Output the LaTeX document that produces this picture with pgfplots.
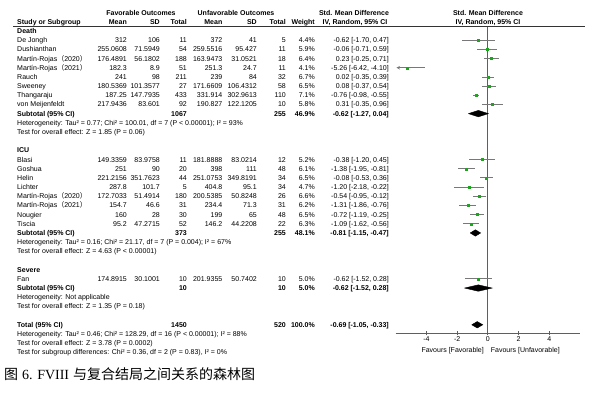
\documentclass[border=0pt]{standalone}
\usepackage{pgfplots}
\pgfplotsset{compat=1.18}
\usepackage{pgfplotstable}
\usepackage{fontspec}
\setmainfont{Liberation Sans}
\newfontfamily\cjk{Noto Sans CJK SC}
\newfontfamily\serif{Liberation Serif}
\usetikzlibrary{arrows.meta}

\definecolor{ptgreen}{RGB}{30,165,30}
\definecolor{cigray}{RGB}{120,120,120}
\definecolor{axgray}{RGB}{95,95,95}

\pgfplotstableread{
y est lo hi
-1 -0.62 -1.70 0.47
-2 -0.06 -0.71 0.59
-3 0.23 -0.25 0.71
-5 0.02 -0.35 0.39
-6 0.08 -0.37 0.54
-7 -0.76 -0.98 -0.55
-8 0.31 -0.35 0.96
-14 -0.38 -1.20 0.45
-15 -1.38 -1.95 -0.81
-16 -0.08 -0.53 0.36
-17 -1.20 -2.18 -0.22
-18 -0.54 -0.95 -0.12
-19 -1.31 -1.86 -0.76
-20 -0.72 -1.19 -0.25
-21 -1.09 -1.62 -0.56
-27 -0.62 -1.52 0.28
}\studies

\newcommand{\by}[1]{-(33.5+9.18*(#1))}
\newcommand{\cFM}{127}
\newcommand{\cFS}{160}
\newcommand{\cFT}{187}
\newcommand{\cUM}{222.5}
\newcommand{\cUS}{257}
\newcommand{\cUT}{286}
\newcommand{\cW}{315}
\newcommand{\cCI}{389}
% row: n, name, m1, sd1, n1, m2, sd2, n2
\newcommand{\StRow}[8]{%
  \node[t,anchor=base west] at (17,{\by{#1}}) {#2};
  \node[t,anchor=base east] at (\cFM,{\by{#1}}) {#3};
  \node[t,anchor=base east] at (\cFS,{\by{#1}}) {#4};
  \node[t,anchor=base east] at (\cFT,{\by{#1}}) {#5};
  \node[t,anchor=base east] at (\cUM,{\by{#1}}) {#6};
  \node[t,anchor=base east] at (\cUS,{\by{#1}}) {#7};
  \node[t,anchor=base east] at (\cUT,{\by{#1}}) {#8};
}
\newcommand{\WtCi}[3]{%
  \node[t,anchor=base east] at (\cW,{\by{#1}}) {#2};
  \node[t,anchor=base east] at (\cCI,{\by{#1}}) {#3};
}
\newcommand{\SubRow}[6]{% n, label, tot1, tot2, w, ci
  \node[t,anchor=base west] at (17,{\by{#1}}) {\bfseries #2};
  \node[t,anchor=base east] at (\cFT,{\by{#1}}) {\bfseries #3};
  \node[t,anchor=base east] at (\cUT,{\by{#1}}) {\bfseries #4};
  \node[t,anchor=base east] at (\cW,{\by{#1}}) {\bfseries #5};
  \node[t,anchor=base east] at (\cCI,{\by{#1}}) {\bfseries #6};
}
\newcommand{\LnRow}[2]{\node[t,anchor=base west] at (17,{\by{#1}}) {#2};}
\newcommand{\MR}[1]{Martín-Rojas{\cjk （}#1{\cjk ）}}

\begin{document}
\begin{tikzpicture}[x=1pt,y=1pt,
  t/.style={inner sep=0pt,font=\fontsize{7}{8.4}\selectfont}]
\useasboundingbox (0pt,0pt) rectangle (600pt,-392pt);

% headers
\node[t,anchor=base] at (141,{\by{-2}}) {\bfseries Favorable Outcomes};
\node[t,anchor=base] at (236,{\by{-2}}) {\bfseries Unfavorable Outcomes};
\node[t,anchor=base] at (354,{\by{-2}}) {\bfseries Std. Mean Difference};
\node[t,anchor=base] at (488,{\by{-2}}) {\bfseries Std. Mean Difference};
\node[t,anchor=base west] at (17,{\by{-1}}) {\bfseries Study or Subgroup};
\node[t,anchor=base east] at (\cFM,{\by{-1}}) {\bfseries Mean};
\node[t,anchor=base east] at (\cFS,{\by{-1}}) {\bfseries SD};
\node[t,anchor=base east] at (\cFT,{\by{-1}}) {\bfseries Total};
\node[t,anchor=base east] at (\cUM,{\by{-1}}) {\bfseries Mean};
\node[t,anchor=base east] at (\cUS,{\by{-1}}) {\bfseries SD};
\node[t,anchor=base east] at (\cUT,{\by{-1}}) {\bfseries Total};
\node[t,anchor=base east] at (\cW,{\by{-1}}) {\bfseries Weight};
\node[t,anchor=base] at (355,{\by{-1}}) {\bfseries IV, Random, 95\% CI};
\node[t,anchor=base] at (488,{\by{-1}}) {\bfseries IV, Random, 95\% CI};
\draw[black!80, line width=0.6pt] (13pt,-26.5pt) -- (585pt,-26.5pt);

% Death
\LnRow{0}{\bfseries Death}
\StRow{1}{De Jongh}{312}{106}{11}{372}{41}{5}\WtCi{1}{4.4\%}{-0.62 [-1.70, 0.47]}
\StRow{2}{Dushianthan}{255.0608}{71.5949}{54}{259.5516}{95.427}{11}\WtCi{2}{5.9\%}{-0.06 [-0.71, 0.59]}
\StRow{3}{\MR{2020}}{176.4891}{56.1802}{188}{163.9473}{31.0521}{18}\WtCi{3}{6.4\%}{0.23 [-0.25, 0.71]}
\StRow{4}{\MR{2021}}{182.3}{8.9}{51}{251.3}{24.7}{11}\WtCi{4}{4.1\%}{-5.26 [-6.42, -4.10]}
\StRow{5}{Rauch}{241}{98}{211}{239}{84}{32}\WtCi{5}{6.7\%}{0.02 [-0.35, 0.39]}
\StRow{6}{Sweeney}{180.5369}{101.3577}{27}{171.6609}{106.4312}{58}\WtCi{6}{6.5\%}{0.08 [-0.37, 0.54]}
\StRow{7}{Thangaraju}{187.25}{147.7935}{433}{331.914}{302.9613}{110}\WtCi{7}{7.1\%}{-0.76 [-0.98, -0.55]}
\StRow{8}{von Meijenfeldt}{217.9436}{83.601}{92}{190.827}{122.1205}{10}\WtCi{8}{5.8\%}{0.31 [-0.35, 0.96]}
\SubRow{9}{Subtotal (95\% CI)}{1067}{255}{46.9\%}{-0.62 [-1.27, 0.04]}
\LnRow{10}{Heterogeneity: Tau² = 0.77; Chi² = 100.01, df = 7 (P < 0.00001); I² = 93\%}
\LnRow{11}{Test for overall effect: Z = 1.85 (P = 0.06)}

% ICU
\LnRow{13}{\bfseries ICU}
\StRow{14}{Blasi}{149.3359}{83.9758}{11}{181.8888}{83.0214}{12}\WtCi{14}{5.2\%}{-0.38 [-1.20, 0.45]}
\StRow{15}{Goshua}{251}{90}{20}{398}{111}{48}\WtCi{15}{6.1\%}{-1.38 [-1.95, -0.81]}
\StRow{16}{Helin}{221.2156}{351.7623}{44}{251.0753}{349.8191}{34}\WtCi{16}{6.5\%}{-0.08 [-0.53, 0.36]}
\StRow{17}{Lichter}{287.8}{101.7}{5}{404.8}{95.1}{34}\WtCi{17}{4.7\%}{-1.20 [-2.18, -0.22]}
\StRow{18}{\MR{2020}}{172.7033}{51.4914}{180}{200.5385}{50.8248}{26}\WtCi{18}{6.6\%}{-0.54 [-0.95, -0.12]}
\StRow{19}{\MR{2021}}{154.7}{46.6}{31}{234.4}{71.3}{31}\WtCi{19}{6.2\%}{-1.31 [-1.86, -0.76]}
\StRow{20}{Nougier}{160}{28}{30}{199}{65}{48}\WtCi{20}{6.5\%}{-0.72 [-1.19, -0.25]}
\StRow{21}{Tiscia}{95.2}{47.2715}{52}{146.2}{44.2208}{22}\WtCi{21}{6.3\%}{-1.09 [-1.62, -0.56]}
\SubRow{22}{Subtotal (95\% CI)}{373}{255}{48.1\%}{-0.81 [-1.15, -0.47]}
\LnRow{23}{Heterogeneity: Tau² = 0.16; Chi² = 21.17, df = 7 (P = 0.004); I² = 67\%}
\LnRow{24}{Test for overall effect: Z = 4.63 (P < 0.00001)}

% Severe
\LnRow{26}{\bfseries Severe}
\StRow{27}{Fan}{174.8915}{30.1001}{10}{201.9355}{50.7402}{10}\WtCi{27}{5.0\%}{-0.62 [-1.52, 0.28]}
\SubRow{28}{Subtotal (95\% CI)}{10}{10}{5.0\%}{-0.62 [-1.52, 0.28]}
\LnRow{29}{Heterogeneity: Not applicable}
\LnRow{30}{Test for overall effect: Z = 1.35 (P = 0.18)}

% Total
\SubRow{32}{Total (95\% CI)}{1450}{520}{100.0\%}{-0.69 [-1.05, -0.33]}
\LnRow{33}{Heterogeneity: Tau² = 0.46; Chi² = 128.29, df = 16 (P < 0.00001); I² = 88\%}
\LnRow{34}{Test for overall effect: Z = 3.78 (P = 0.0002)}
\LnRow{35}{Test for subgroup differences: Chi² = 0.36, df = 2 (P = 0.83), I² = 0\%}

\begin{axis}[at={(395.7pt,-26.5pt)}, anchor=north west,
  scale only axis, width=184.3pt, height=306.8pt,
  xmin=-6, xmax=6, ymin=-32.93, ymax=0.49,
  axis x line=bottom, axis y line=none,
  x axis line style={-, draw=axgray, line width=0.8pt},
  xtick={-4,-2,0,2,4}, xticklabels={-4,-2,0,2,4},
  xtick align=center, major tick length=4pt,
  tick style={axgray, line width=0.8pt},
  ticklabel style={font=\fontsize{7}{8}\selectfont, inner sep=1pt},
  clip=false]
\addplot[axgray, line width=0.8pt, forget plot] coordinates {(0,0.49) (0,-32.93)};
\addplot[only marks, mark=square*, mark size=1pt, color=ptgreen,
  error bars/.cd, x dir=both, x explicit, error mark=none,
  error bar style={cigray, line width=0.8pt}]
  table[x=est, y=y, x error plus expr=\thisrow{hi}-\thisrow{est},
        x error minus expr=\thisrow{est}-\thisrow{lo}] {\studies};
\addplot[cigray, line width=0.8pt, -{Stealth[length=3.5pt,width=3.5pt]}]
  coordinates {(-4.10,-4) (-5.95,-4)};
\addplot[only marks, mark=square*, mark size=1pt, color=ptgreen] coordinates {(-5.26,-4)};
% diamonds
\addplot[draw=black, fill=black] coordinates {(-1.27,-9) (-0.62,-8.65) (0.04,-9) (-0.62,-9.35) (-1.27,-9)};
\addplot[draw=black, fill=black] coordinates {(-1.15,-22) (-0.81,-21.65) (-0.47,-22) (-0.81,-22.35) (-1.15,-22)};
\addplot[draw=black, fill=black] coordinates {(-1.52,-28) (-0.62,-27.65) (0.28,-28) (-0.62,-28.35) (-1.52,-28)};
\addplot[draw=black, fill=black] coordinates {(-1.05,-32) (-0.69,-31.65) (-0.33,-32) (-0.69,-32.35) (-1.05,-32)};
\end{axis}

\node[t,anchor=base east] at (484pt,-352pt) {Favours [Favorable]};
\node[t,anchor=base west] at (490.7pt,-352pt) {Favours [Unfavorable]};

\node[inner sep=0pt, anchor=base west, font=\fontsize{14}{16}\selectfont] at (4pt,-379pt)
  {{\cjk 图} {\serif 6. FVIII} {\cjk 与复合结局之间关系的森林图}};
\end{tikzpicture}
\end{document}
